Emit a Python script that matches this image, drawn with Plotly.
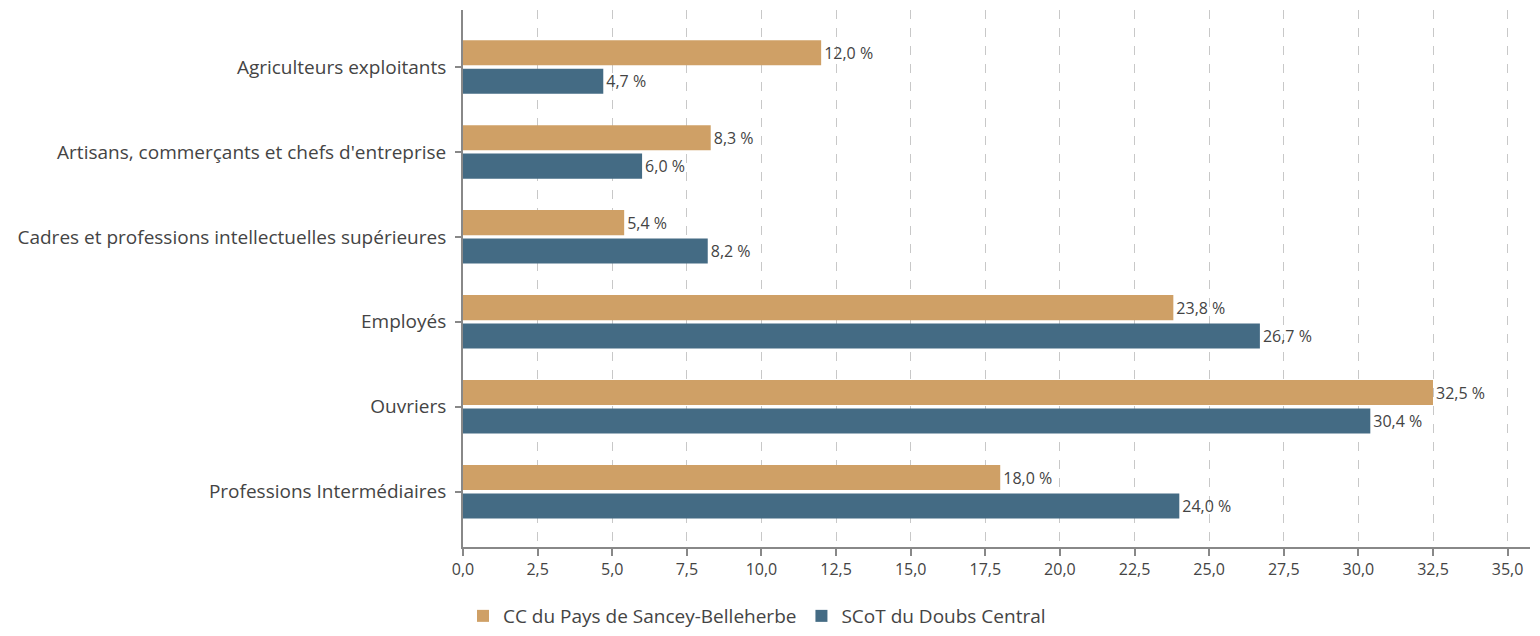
import plotly.graph_objects as go

categories = [
    "Agriculteurs exploitants",
    "Artisans, commerçants et chefs d'entreprise",
    "Cadres et professions intellectuelles supérieures",
    "Employés",
    "Ouvriers",
    "Professions Intermédiaires",
]
series_cc_name = "CC du Pays de Sancey-Belleherbe"
series_cc = [12.0, 8.3, 5.4, 23.8, 32.5, 18.0]
series_scot_name = "SCoT du Doubs Central"
series_scot = [4.7, 6.0, 8.2, 26.7, 30.4, 24.0]

font_family = "Open Sans, Noto Sans, sans-serif"

fig = go.Figure()
fig.add_trace(go.Bar(
    y=categories, x=series_cc, name=series_cc_name, orientation="h",
    marker=dict(color="#CFA066", line=dict(width=0)),
    texttemplate="%{x:.1f} %", textposition="outside", cliponaxis=False,
    textfont=dict(color="#444444", size=16, family=font_family),
))
fig.add_trace(go.Bar(
    y=categories, x=series_scot, name=series_scot_name, orientation="h",
    marker=dict(color="#446B84", line=dict(width=0)),
    texttemplate="%{x:.1f} %", textposition="outside", cliponaxis=False,
    textfont=dict(color="#444444", size=16, family=font_family),
))

fig.update_layout(
    width=1540, height=636,
    margin=dict(l=455, r=18, t=2, b=97, autoexpand=False),
    barmode="group", bargap=0.33, bargroupgap=0.12,
    separators=", ",
    plot_bgcolor="white", paper_bgcolor="white",
    font=dict(family=font_family, color="#444444", size=16),
    legend=dict(orientation="h", x=0.0, xanchor="left",
                yref="container", y=0.044, yanchor="middle",
                font=dict(size=19, color="#444444"), traceorder="normal"),
    xaxis=dict(
        range=[0, 35.75], dtick=2.5, tick0=0, tickformat=".1f",
        showgrid=True, gridcolor="#c8c8c8", griddash="dash", gridwidth=1,
        showline=True, linecolor="#888888", linewidth=2,
        ticks="outside", ticklen=7, tickcolor="#888888", tickwidth=2,
        tickfont=dict(size=16, color="#444444"), zeroline=False,
    ),
    yaxis=dict(
        categoryorder="array", categoryarray=categories,
        range=[5.65, -0.67],
        showline=True, linecolor="#888888", linewidth=2,
        ticks="outside", ticklen=6, tickcolor="#888888", tickwidth=2,
        tickfont=dict(size=19, color="#444444"), showgrid=False,
        ticksuffix=" ",
    ),
)

fig.write_html("out.html")
